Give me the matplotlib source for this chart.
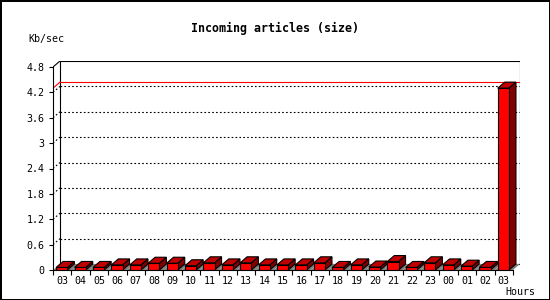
import numpy as np
import matplotlib
matplotlib.use("Agg")
from matplotlib import pyplot as plt
from matplotlib.patches import Polygon

plt.rcParams["font.family"] = ["DejaVu Sans Mono"]

# Hourly incoming article volume (Kb/sec)
hours = ["03", "04", "05", "06", "07", "08", "09", "10", "11", "12", "13", "14",
         "15", "16", "17", "18", "19", "20", "21", "22", "23", "00", "01", "02", "03"]
rates = [0.06, 0.06, 0.06, 0.12, 0.12, 0.16, 0.16, 0.10, 0.17, 0.12, 0.17, 0.12,
         0.12, 0.12, 0.17, 0.06, 0.12, 0.07, 0.20, 0.06, 0.17, 0.12, 0.09, 0.06, 4.30]
y_ticks = [0, 0.6, 1.2, 1.8, 2.4, 3.0, 3.6, 4.2, 4.8]
y_labels = ["0", "0.6", "1.2", "1.8", "2.4", "3", "3.6", "4.2", "4.8"]

W, H = 550, 300
fig = plt.figure(figsize=(W / 100, H / 100), dpi=100)
fig.patch.set_edgecolor("black")
fig.patch.set_linewidth(2)

# axes box in pixels: front axis x 53..513, depth 7px right, 6px up
px_x, px_y = 460 / 25, 203 / 4.8
dx, dy = 7 / px_x, 6 / px_y
ax = fig.add_axes([53 / W, 30 / H, (460 + 7) / W, (203 + 6) / H])
n = len(hours)
ymax = y_ticks[-1]
ax.set_xlim(0, n + dx)
ax.set_ylim(0, ymax + dy)

# back wall
ax.add_patch(Polygon([(dx, dy), (n + dx, dy), (n + dx, ymax + dy), (dx, ymax + dy)],
                     closed=True, facecolor="white", edgecolor="black", lw=0.8, zorder=1))
ax.plot([0, dx], [ymax, ymax + dy], color="black", lw=0.8, zorder=2)

# dotted grid on back wall
for v in y_ticks[1:-1]:
    ax.plot([dx, n + dx], [v + dy, v + dy], color="black", lw=0.8,
            linestyle=(0, (1.5, 2)), zorder=2)
    ax.plot([0, dx], [v, v + dy], color="black", lw=0.8,
            linestyle=(0, (1.5, 2)), zorder=2)

# max line
top = max(rates)
ax.plot([dx, n + dx], [top + dy, top + dy], color="red", lw=0.8, zorder=3)
ax.plot([0, dx], [top, top + dy], color="red", lw=0.8, zorder=3)

# floor and bars
x0, x1 = 0.17, 0.78
for i, v in enumerate(rates):
    ax.add_patch(Polygon([(i, 0), (i + 1, 0), (i + 1 + dx, dy), (i + dx, dy)],
                         closed=True, facecolor="#808080", edgecolor="none", zorder=4))
for i, v in enumerate(rates):
    a, b = i + x0, i + x1
    ax.add_patch(Polygon([(b, 0), (b + dx, dy), (b + dx, v + dy), (b, v)],
                         closed=True, facecolor="#800000", edgecolor="black", lw=0.8, zorder=5))
    ax.add_patch(Polygon([(a, v), (b, v), (b + dx, v + dy), (a + dx, v + dy)],
                         closed=True, facecolor="#c00000", edgecolor="black", lw=0.8, zorder=5))
    ax.add_patch(Polygon([(a, 0), (b, 0), (b, v), (a, v)],
                         closed=True, facecolor="#ff0000", edgecolor="black", lw=0.8, zorder=6))

for s in ["top", "right"]:
    ax.spines[s].set_visible(False)
ax.spines["left"].set_bounds(0, ymax)
ax.spines["bottom"].set_bounds(0, n)
for s in ["left", "bottom"]:
    ax.spines[s].set_linewidth(0.8)
    ax.spines[s].set_zorder(7)

ax.set_yticks(y_ticks)
ax.set_yticklabels(y_labels)
ax.tick_params(axis="y", direction="out", length=3, width=0.8, pad=3, labelsize=7.2)
ax.set_xticks(np.arange(n + 1))
ax.set_xticklabels([])
ax.set_xticks(np.arange(n) + 0.5, minor=True)
ax.set_xticklabels(hours, minor=True)
ax.tick_params(axis="x", which="major", direction="out", length=3.6, width=0.8)
ax.tick_params(axis="x", which="minor", length=0, pad=4, labelsize=7.2)

fig.text(0.5, 1 - 28 / H, "Incoming articles (size)", ha="center", va="center",
         fontsize=8.4, fontweight="bold")
fig.text(28 / W, 1 - 39 / H, "Kb/sec", ha="left", va="center", fontsize=7.2)
fig.text(505 / W, 1 - 292 / H, "Hours", ha="left", va="center", fontsize=7.2)

fig.savefig("out.png", dpi=100)
